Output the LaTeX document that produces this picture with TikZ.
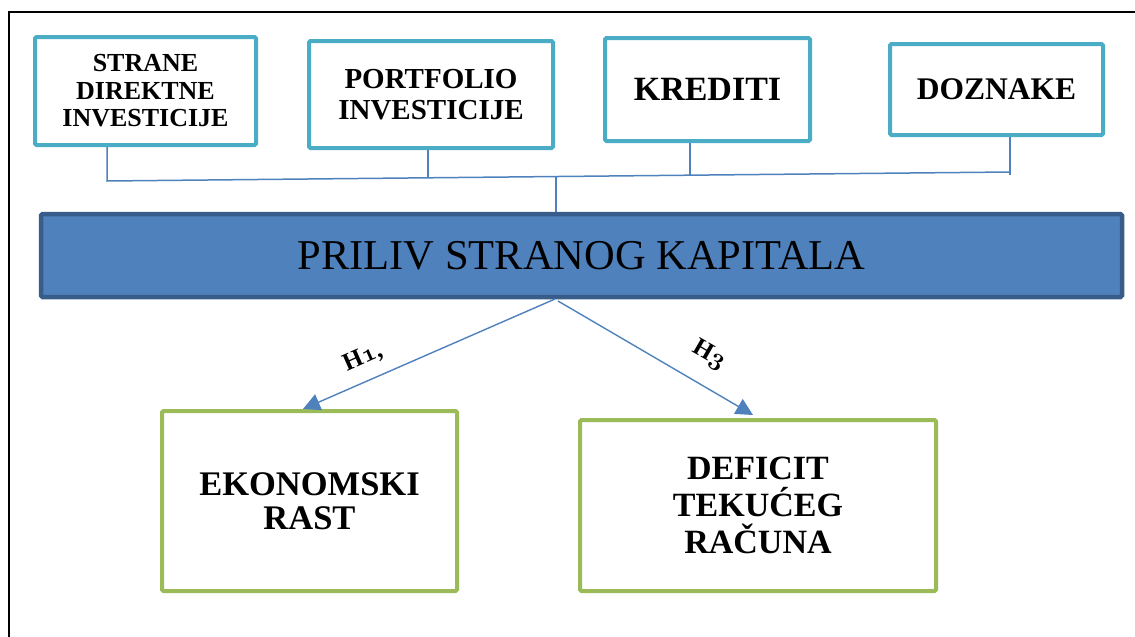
\documentclass[tikz,border=0pt]{standalone}
\usepackage{fontspec}
\setmainfont{Liberation Serif}
\usetikzlibrary{arrows.meta,calc}
\definecolor{cyanb}{HTML}{4BACC6}
\definecolor{greenb}{HTML}{9BBB59}
\definecolor{barfill}{HTML}{4F81BD}
\definecolor{barline}{HTML}{385D8A}
\definecolor{conn}{HTML}{4F81BD}
\newcommand{\osf}[1]{{\usefont{OML}{cmm}{b}{it}#1}}
\tikzset{
  topbox/.style={draw=cyanb, line width=4pt, rounded corners=1.5pt, fill=white, align=center, inner sep=0pt},
  botbox/.style={draw=greenb, line width=4pt, rounded corners=1.5pt, fill=white, align=center, inner sep=0pt},
  barbox/.style={draw=barline, fill=barfill, line width=4.5pt, rounded corners=1.5pt, inner sep=0pt},
  link/.style={draw=conn, line width=1.5pt},
  arr/.style={draw=conn, line width=1.4pt, -{Triangle[length=17pt,width=17pt]}, fill=conn},
  hlabel/.style={font=\bfseries\fontsize{25}{27}\selectfont, inner sep=0pt}
}
\begin{document}
\begin{tikzpicture}[x=1pt,y=-1pt]
\useasboundingbox (0,0) rectangle (1135,637);
% outer frame
\draw[line width=2pt, black] (8.5,640) -- (8.5,12) -- (1140,12);

% top boxes
\node[topbox, minimum width=221pt, minimum height=108pt, font=\bfseries\fontsize{26}{27.5}\selectfont] (b1) at (145.5,91)
  {STRANE\\DIREKTNE\\INVESTICIJE};
\node[topbox, minimum width=244pt, minimum height=107pt, font=\bfseries\fontsize{29}{31}\selectfont] (b2) at (431,94.5)
  {PORTFOLIO\\INVESTICIJE};
\node[topbox, minimum width=205pt, minimum height=103pt, font=\bfseries\fontsize{34}{36}\selectfont] (b3) at (707.5,89.5)
  {KREDITI};
\node[topbox, minimum width=213pt, minimum height=91pt, font=\bfseries\fontsize{31.5}{34}\selectfont] (b4) at (996.5,89.5)
  {DOZNAKE};

% main bar
\node[barbox, minimum width=1081pt, minimum height=83pt, font=\fontsize{42.5}{46}\selectfont] (bar) at (581.5,255.5)
  {PRILIV STRANOG KAPITALA};

% bottom boxes
\node[botbox, minimum width=295pt, minimum height=180pt, font=\bfseries\fontsize{34.5}{34}\selectfont] (b5) at (309.5,501)
  {EKONOMSKI\\RAST};
\node[botbox, minimum width=356pt, minimum height=171pt, font=\bfseries\fontsize{34}{37}\selectfont] (b6) at (758,505.5)
  {DEFICIT\\TEKUĆEG\\RAČUNA};

% bracket connectors
\coordinate (j1) at (107,181);
\coordinate (j2) at (428,177.8);
\coordinate (j3) at (690,175.2);
\coordinate (j4) at (1010,172);
\coordinate (jb) at (556,176.6);
\draw[link] (b1.south -| j1) -- (j1) -- (j4);
\draw[link] (b2.south -| j2) -- (j2);
\draw[link] (b3.south -| j3) -- (j3);
\draw[link] (b4.south -| j4) -- ($(j4)+(0,3)$);
\draw[link] (jb) -- (bar.north -| jb);

% arrows
\coordinate (s1) at (555,299);
\coordinate (s2) at (558,301);
\draw[arr] (s1) -- ($(b5.north)+(-6.5,0)$);
\draw[arr] (s2) -- ($(b6.north)+(-5,-3)$);

% labels
\node[hlabel, rotate=24] (h1) at (363,358) {H\osf{1},};
\node[hlabel, rotate=-30] (h3) at (709,355) {H\osf{3}};
\end{tikzpicture}
\end{document}
